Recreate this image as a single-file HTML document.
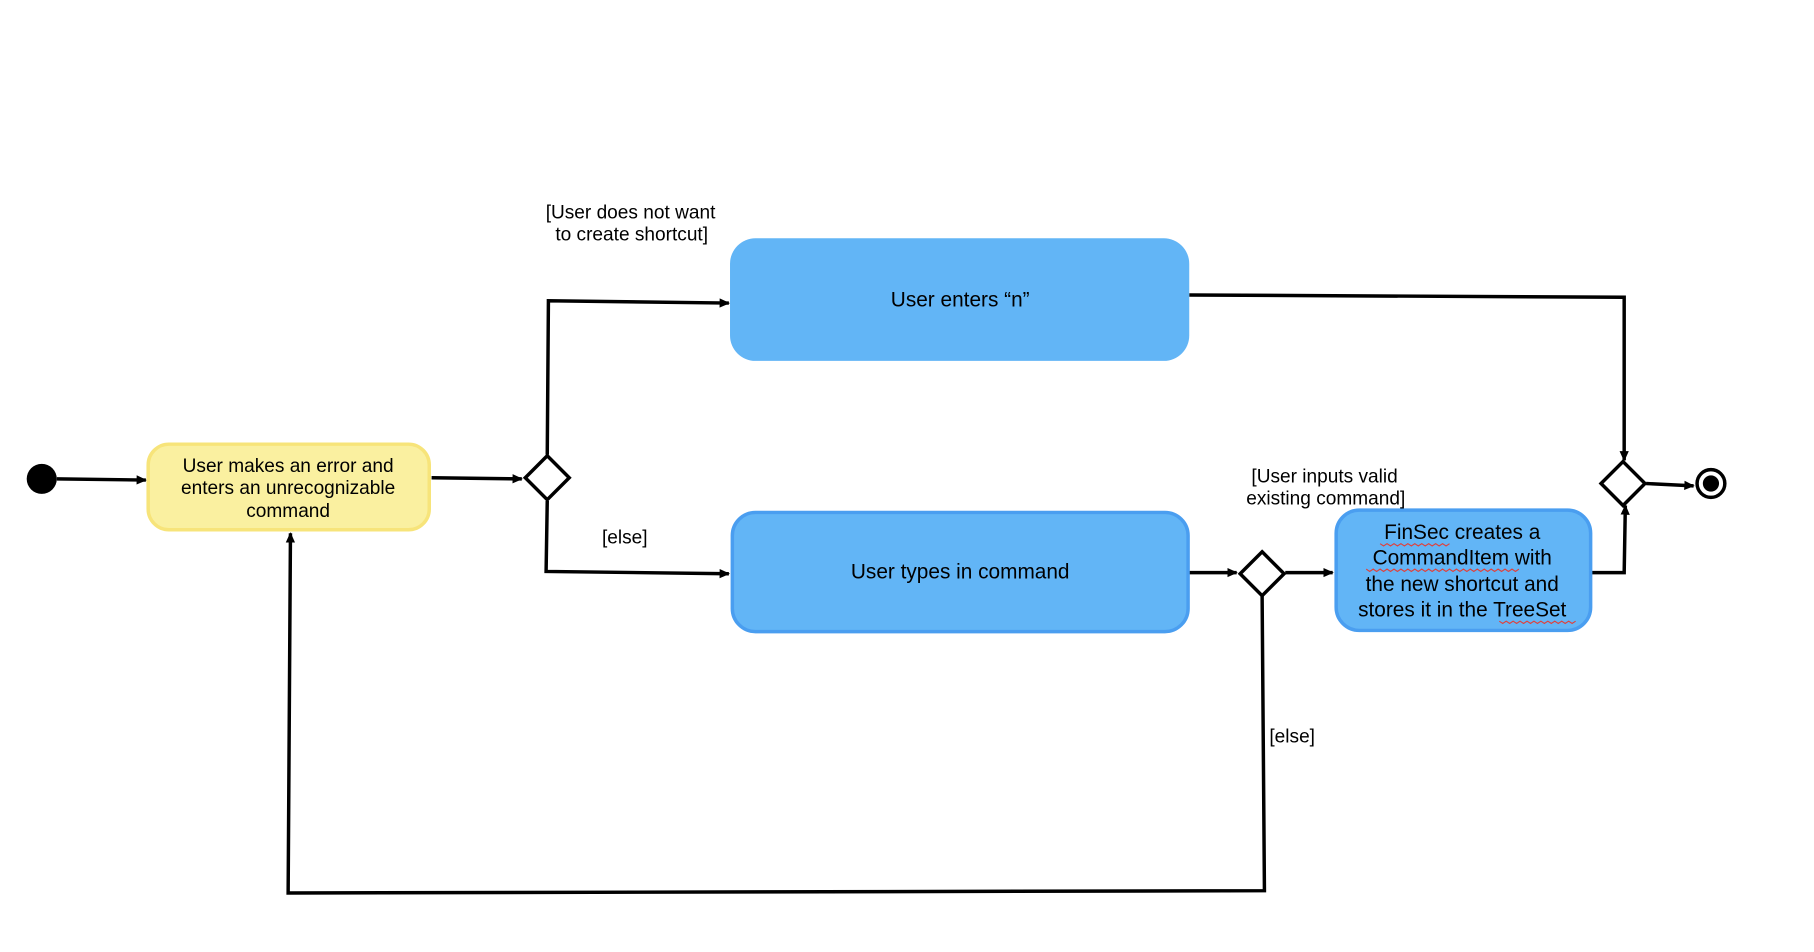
<!DOCTYPE html>
<html><head><meta charset="utf-8"><style>
html,body{margin:0;padding:0;background:#fff;}
svg{display:block;}
text{font-family:"Liberation Sans",Arial,sans-serif;fill:#000;}
</style></head><body>
<svg width="1814" height="952" viewBox="0 0 1568 823" xmlns="http://www.w3.org/2000/svg">
<defs>
<marker id="a" markerWidth="10" markerHeight="10" refX="8" refY="5" orient="auto" markerUnits="userSpaceOnUse">
<path d="M0,1 L9,5 L0,9 z" fill="#000"/></marker>
</defs>
<g stroke="#000" stroke-width="3" fill="none">
<line x1="49" y1="414" x2="126" y2="415" marker-end="url(#a)"/>
<line x1="373" y1="413" x2="451" y2="414" marker-end="url(#a)"/>
<polyline points="473,393 474,260 630,262" marker-end="url(#a)"/>
<polyline points="473,433 472,494 630,496" marker-end="url(#a)"/>
<line x1="1028" y1="495" x2="1069" y2="495" marker-end="url(#a)"/>
<line x1="1111" y1="495" x2="1152" y2="495" marker-end="url(#a)"/>
<polyline points="1375,495 1404,495 1405,437" marker-end="url(#a)"/>
<polyline points="1028,255 1404,257 1404,398" marker-end="url(#a)"/>
<line x1="1423" y1="418" x2="1464" y2="420" marker-end="url(#a)"/>
<polyline points="1091,515 1093,770 249,772 251,461" marker-end="url(#a)"/>
</g>
<circle cx="36" cy="414" r="13" fill="#000"/>
<rect x="128" y="384" width="243" height="74" rx="18" fill="#faf0a0" stroke="#f7e47a" stroke-width="3"/>
<rect x="631" y="206" width="397" height="106" rx="22" fill="#62b5f6"/>
<rect x="633" y="443" width="394" height="103" rx="20" fill="#62b5f6" stroke="#4a9ef0" stroke-width="3"/>
<rect x="1155" y="441" width="220" height="104" rx="20" fill="#62b5f6" stroke="#4a9ef0" stroke-width="3"/>
<g fill="#fff" stroke="#000" stroke-width="3">
<polygon points="473,394 492,413 473,432 454,413"/>
<polygon points="1091,477 1110,496 1091,515 1072,496"/>
<polygon points="1403,399 1422,418 1403,437 1384,418"/>
</g>
<circle cx="1479" cy="418" r="12" fill="#fff" stroke="#000" stroke-width="3"/>
<circle cx="1479" cy="418" r="7" fill="#000"/>
<g font-size="16.5" text-anchor="middle">
<text x="249" y="408">User makes an error and</text>
<text x="249" y="427">enters an unrecognizable</text>
<text x="249" y="447">command</text>
<text x="830" y="265" font-size="18">User enters “n”</text>
<text x="830" y="500" font-size="18">User types in command</text>
<text x="1264" y="466" font-size="18">FinSec creates a</text>
<text x="1264" y="488" font-size="18">CommandItem with</text>
<text x="1264" y="511" font-size="18">the new shortcut and</text>
<text x="1264" y="533" font-size="18">stores it in the TreeSet</text>
<text x="545" y="189">[User does not want</text>
<text x="546" y="208">to create shortcut]</text>
<text x="540" y="470">[else]</text>
<text x="1145" y="417">[User inputs valid</text>
<text x="1146" y="436">existing command]</text>
<text x="1117" y="642">[else]</text>
</g>
<g stroke="#e0403a" stroke-width="1" fill="none">
<polyline points="1193,470 1196,472 1199,470 1202,472 1205,470 1208,472 1211,470 1214,472 1217,470 1220,472 1223,470 1226,472 1229,470 1232,472 1235,470 1238,472 1241,470 1244,472 1247,470 1250,472 1253,470"/>
<polyline points="1181,492 1184,494 1187,492 1190,494 1193,492 1196,494 1199,492 1202,494 1205,492 1208,494 1211,492 1214,494 1217,492 1220,494 1223,492 1226,494 1229,492 1232,494 1235,492 1238,494 1241,492 1244,494 1247,492 1250,494 1253,492 1256,494 1259,492 1262,494 1265,492 1268,494 1271,492 1274,494 1277,492 1280,494 1283,492 1286,494 1289,492 1292,494 1295,492 1298,494 1301,492 1304,494 1307,492 1310,494 1313,492"/>
<polyline points="1296,537 1299,539 1302,537 1305,539 1308,537 1311,539 1314,537 1317,539 1320,537 1323,539 1326,537 1329,539 1332,537 1335,539 1338,537 1341,539 1344,537 1347,539 1350,537 1353,539 1356,537 1359,539 1362,537"/>
</g>
</svg>
</body></html>
